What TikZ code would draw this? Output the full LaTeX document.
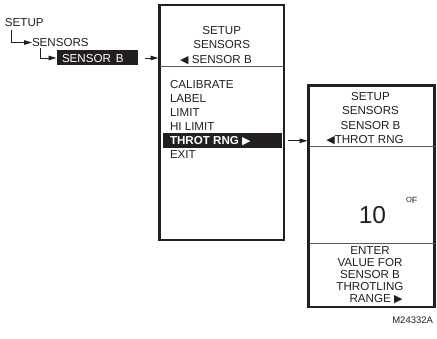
\documentclass[tikz,border=0pt]{standalone}
\usepackage{fontspec}
\setmainfont{Liberation Sans}
\newfontfamily\symfont{DejaVu Sans}
\newcommand\rtri{{\symfont\fontsize{11}{11}\selectfont ▶}}
\newcommand\ltri{{\symfont\fontsize{11}{11}\selectfont ◀}}
\usetikzlibrary{arrows.meta}
\definecolor{ink}{HTML}{231F20}
\begin{document}
\begin{tikzpicture}[x=1pt,y=-1pt,
  every node/.style={inner sep=0pt, outer sep=0pt, text=ink},
  txt/.style={font=\fontsize{11.6}{13}\selectfont, anchor=base},
  ltxt/.style={font=\fontsize{11.6}{13}\selectfont, anchor=base west},
  screen/.style={draw=ink, line width=2.6pt, minimum width=#1},
  divider/.style={draw=ink!75, line width=0.8pt},
  hibar/.style={fill=ink, minimum height=15pt},
  arr/.style={draw=ink, line width=0.9pt, -{Triangle[length=8pt,width=4.5pt]}}]
\useasboundingbox (0,0) rectangle (437,339);

% left menu path
\node[ltxt] (setup) at (5,26.5) {SETUP};
\node[ltxt] (sensors) at (32,46.5) {SENSORS};
\node[hibar, minimum width=81pt, anchor=west] (sensorb) at (56.5,58) {};
\node[ltxt, text=white] (sensorbt) at (62,62.2) {SENSOR\hspace{5pt}B};
\coordinate (c1) at (11.7,30);
\coordinate (c2) at (40,48.5);
\draw[arr] (c1) |- (sensors.west);
\draw[arr] (c2) |- (sensorb.west);

% screen 1
\node[screen=124.5pt, minimum height=235pt] (box1) at (221.75,122.5) {};
\draw[divider] (box1.west |- 0,66.7) -- (box1.east |- 0,66.7);
\node[txt] (b1h1) at (221.75,35) {SETUP};
\node[txt] (b1h2) at (221.75,48.3) {SENSORS};
\node[txt] (b1h3) at (216,63.3) {\ltri\ SENSOR B};
\node[ltxt] (m1) at (170,88.5) {CALIBRATE};
\node[ltxt] (m2) at (170,102.5) {LABEL};
\node[ltxt] (m3) at (170,116.5) {LIMIT};
\node[ltxt] (m4) at (170,130.5) {HI LIMIT};
\node[hibar, minimum width=119pt, anchor=west] (bar) at (163,140.8) {};
\node[ltxt, text=white, font=\fontsize{11.6}{13}\selectfont\bfseries] (m5) at (170,145) {THROT RNG \rtri};
\node[ltxt] (m6) at (170,159) {EXIT};

\draw[arr, shorten <=7pt, shorten >=1pt] (sensorb.east) -- (sensorb.east -| box1.west);

% screen 2
\node[screen=126pt, minimum height=221.5pt] (box2) at (371.5,196.25) {};
\draw[divider] (box2.west |- 0,146.7) -- (box2.east |- 0,146.7);
\draw[divider] (box2.west |- 0,243.3) -- (box2.east |- 0,243.3);
\node[txt] (b2h1) at (370.5,100.7) {SETUP};
\node[txt] (b2h2) at (370.5,115) {SENSORS};
\node[txt] (b2h3) at (370.5,129.3) {SENSOR B};
\node[txt] (b2h4) at (365,143.3) {\ltri THROT RNG};
\node[anchor=base, font=\fontsize{24.5}{24.5}\selectfont] (val) at (372.5,224) {10};
\node[anchor=base west] (unit) at (406,204) {{\fontsize{7.5}{8}\selectfont\raisebox{1.5pt}{O}}{\fontsize{9}{10}\selectfont F}};
\node[txt] (b2l1) at (370,255) {ENTER};
\node[txt] (b2l2) at (370,266.8) {VALUE FOR};
\node[txt] (b2l3) at (370,278.6) {SENSOR B};
\node[txt] (b2l4) at (370,290.4) {THROTLING};
\node[txt] (b2l5) at (376,302.2) {RANGE \rtri};

\draw[arr, shorten <=6pt, shorten >=1pt] (bar.east) -- (bar.east -| box2.west);

\node[anchor=base east, font=\fontsize{9.5}{10}\selectfont] (code) at (433,324) {M24332A};
\end{tikzpicture}
\end{document}
